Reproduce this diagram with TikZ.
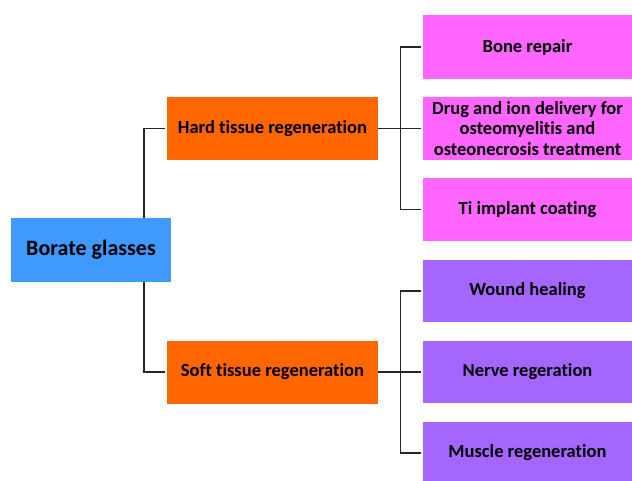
\documentclass[tikz,border=0pt]{standalone}
\usepackage{fontspec}
\setmainfont[Ligatures=NoCommon]{Carlito}
\definecolor{cblue}{HTML}{3F99FF}
\definecolor{corange}{HTML}{FF6600}
\definecolor{cpink}{HTML}{FF66FF}
\definecolor{cpurple}{HTML}{A566FF}
\begin{document}
\begin{tikzpicture}[x=1pt,y=-1pt,
  box/.style={inner sep=0pt,align=center,font=\fontsize{18.5}{20.5}\selectfont\bfseries,text=black},
  rootbox/.style={box,fill=cblue,minimum width=160pt,minimum height=64pt,font=\fontsize{22}{24}\selectfont\bfseries},
  midbox/.style={box,fill=corange,minimum width=211pt,minimum height=63pt},
  pinkbox/.style={box,fill=cpink,minimum width=209pt,minimum height=63pt},
  purplebox/.style={box,fill=cpurple,minimum width=209pt,minimum height=62pt},
  conn/.style={draw=black!85,line width=1.3pt}]
\useasboundingbox (0,0) rectangle (632,480);
\node[rootbox] (borate) at (91,250) {Borate glasses};
\node[midbox] (hard) at (272.5,128.5) {Hard tissue regeneration};
\node[midbox] (soft) at (272.5,372) {Soft tissue regeneration};
\node[pinkbox,minimum height=64pt] (bone) at (527.5,47) {Bone repair};
\node[pinkbox] (drug) at (527.5,128.5) {Drug and ion delivery for\\osteomyelitis and\\osteonecrosis treatment};
\node[pinkbox] (ti) at (527.5,209.5) {Ti implant coating};
\node[purplebox] (wound) at (527.5,291) {Wound healing};
\node[purplebox] (nerve) at (527.5,372) {Nerve regeration};
\node[purplebox] (muscle) at (527.5,453) {Muscle regeneration};
\draw[conn] ([xshift=53pt]borate.north) |- ([xshift=-2pt]hard.west);
\draw[conn] ([xshift=53pt]borate.south) |- ([xshift=-2pt]soft.west);
\draw[conn] (hard.east) -- ([xshift=-2pt]drug.west);
\draw[conn] ([xshift=-2pt]bone.west) -- ++(-20,0) |- ([xshift=-2pt]ti.west);
\draw[conn] (soft.east) -- ([xshift=-2pt]nerve.west);
\draw[conn] ([xshift=-2pt]wound.west) -- ++(-20,0) |- ([xshift=-2pt]muscle.west);
\end{tikzpicture}
\end{document}
